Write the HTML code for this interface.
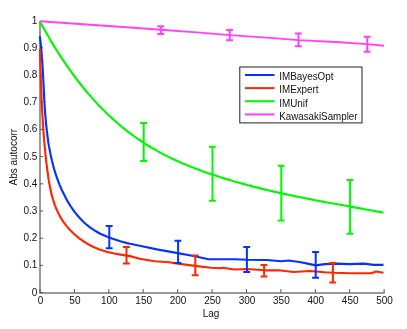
<!DOCTYPE html><html><head><meta charset="utf-8"><style>html,body{margin:0;padding:0;background:#fff}svg{display:block;will-change:transform}text{font-family:"Liberation Sans",sans-serif;font-size:10px;fill:#111}</style></head><body>
<svg width="407" height="329" viewBox="0 0 407 329">
<rect width="407" height="329" fill="#fff"/>
<g stroke="#555" stroke-width="1">
<line x1="40" y1="20.9" x2="40" y2="293.9" stroke="#999" stroke-width="2"/>
<line x1="39" y1="292.9" x2="384.6" y2="292.9" stroke="#999" stroke-width="2"/>
<line x1="40.0" y1="292.9" x2="40.0" y2="289.1"/>
<line x1="40" y1="292.6" x2="43.1" y2="292.6"/>
<line x1="74.4" y1="292.9" x2="74.4" y2="289.1"/>
<line x1="40" y1="265.4" x2="43.1" y2="265.4"/>
<line x1="108.8" y1="292.9" x2="108.8" y2="289.1"/>
<line x1="40" y1="238.2" x2="43.1" y2="238.2"/>
<line x1="143.2" y1="292.9" x2="143.2" y2="289.1"/>
<line x1="40" y1="211.0" x2="43.1" y2="211.0"/>
<line x1="177.6" y1="292.9" x2="177.6" y2="289.1"/>
<line x1="40" y1="183.8" x2="43.1" y2="183.8"/>
<line x1="212.1" y1="292.9" x2="212.1" y2="289.1"/>
<line x1="40" y1="156.6" x2="43.1" y2="156.6"/>
<line x1="246.5" y1="292.9" x2="246.5" y2="289.1"/>
<line x1="40" y1="129.4" x2="43.1" y2="129.4"/>
<line x1="280.9" y1="292.9" x2="280.9" y2="289.1"/>
<line x1="40" y1="102.2" x2="43.1" y2="102.2"/>
<line x1="315.3" y1="292.9" x2="315.3" y2="289.1"/>
<line x1="40" y1="75.0" x2="43.1" y2="75.0"/>
<line x1="349.7" y1="292.9" x2="349.7" y2="289.1"/>
<line x1="40" y1="47.8" x2="43.1" y2="47.8"/>
<line x1="384.1" y1="292.9" x2="384.1" y2="289.1"/>
</g>
<text x="40.5" y="303.6" text-anchor="middle">0</text>
<text x="37.3" y="295.6" text-anchor="end">0</text>
<text x="74.9" y="303.6" text-anchor="middle">50</text>
<text x="37.3" y="268.4" text-anchor="end">0.1</text>
<text x="109.3" y="303.6" text-anchor="middle">100</text>
<text x="37.3" y="241.2" text-anchor="end">0.2</text>
<text x="143.7" y="303.6" text-anchor="middle">150</text>
<text x="37.3" y="214.0" text-anchor="end">0.3</text>
<text x="178.1" y="303.6" text-anchor="middle">200</text>
<text x="37.3" y="186.8" text-anchor="end">0.4</text>
<text x="212.6" y="303.6" text-anchor="middle">250</text>
<text x="37.3" y="159.6" text-anchor="end">0.5</text>
<text x="247.0" y="303.6" text-anchor="middle">300</text>
<text x="37.3" y="132.4" text-anchor="end">0.6</text>
<text x="281.4" y="303.6" text-anchor="middle">350</text>
<text x="37.3" y="105.2" text-anchor="end">0.7</text>
<text x="315.8" y="303.6" text-anchor="middle">400</text>
<text x="37.3" y="78.0" text-anchor="end">0.8</text>
<text x="350.2" y="303.6" text-anchor="middle">450</text>
<text x="37.3" y="50.8" text-anchor="end">0.9</text>
<text x="384.6" y="303.6" text-anchor="middle">500</text>
<text x="37.3" y="23.6" text-anchor="end">1</text>
<text x="211.0" y="316.9" text-anchor="middle">Lag</text>
<text transform="translate(17,157.2) rotate(-90)" text-anchor="middle">Abs autocorr</text>
<polyline fill="none" stroke="#0433ff" stroke-width="2.15" stroke-linejoin="round" points="39.8,36.1 40.2,39.1 40.5,42.1 40.9,45.1 41.2,48.2 41.4,51.3 41.7,54.3 41.9,57.4 42.2,60.5 42.4,63.6 42.6,66.8 42.8,69.9 42.9,73.0 43.1,76.2 43.3,79.3 43.4,82.5 43.6,85.6 43.7,88.8 43.9,91.9 44.1,95.1 44.2,98.3 44.4,101.4 44.6,104.6 44.8,107.8 45.0,110.9 45.2,114.1 45.5,117.2 45.8,120.4 46.0,123.5 46.4,126.7 46.7,129.8 47.1,132.9 47.5,136.1 47.9,139.2 48.3,142.3 48.8,145.4 49.4,148.4 50.0,151.5 50.6,154.6 51.2,157.6 51.9,160.6 52.7,163.7 53.5,166.7 54.3,169.6 55.2,172.6 56.2,175.6 57.2,178.5 58.3,181.4 59.4,184.3 60.6,187.2 61.8,190.0 63.2,192.8 64.6,195.6 66.0,198.4 67.6,201.2 69.2,203.9 70.8,206.5 72.6,209.1 74.4,211.6 76.4,214.1 78.4,216.5 80.5,218.8 82.6,221.0 84.9,223.2 87.2,225.2 89.7,227.1 92.2,228.9 94.8,230.6 97.6,232.2 100.3,233.7 103.2,235.0 106.1,236.3 109.1,237.5 112.0,238.6 115.0,239.6 118.1,240.6 121.1,241.5 124.1,242.3 127.1,243.1 130.0,243.8 139.7,245.7 156.9,249.4 177.7,253.1 193.7,256.0 208.5,259.2 220.0,259.2 234.6,259.2 246.9,259.7 266.5,260.0 281.3,261.2 288.6,260.5 300.9,262.2 309.8,264.1 316.0,265.4 324.6,264.1 336.9,263.6 349.1,264.1 363.9,263.6 373.7,264.9 383.5,264.9"/>
<polyline fill="none" stroke="#ff2600" stroke-width="2.15" stroke-linejoin="round" points="40.0,48.9 40.1,52.2 40.1,55.4 40.2,58.7 40.3,61.9 40.4,65.2 40.5,68.4 40.6,71.7 40.7,74.9 40.8,78.1 40.9,81.3 41.0,84.5 41.1,87.7 41.3,90.9 41.4,94.1 41.5,97.3 41.7,100.5 41.8,103.7 42.0,106.9 42.1,110.0 42.3,113.2 42.5,116.4 42.7,119.6 42.9,122.8 43.1,125.9 43.3,129.1 43.5,132.3 43.8,135.5 44.0,138.7 44.3,141.9 44.6,145.1 44.9,148.2 45.2,151.4 45.5,154.7 45.9,157.9 46.2,161.1 46.6,164.3 47.0,167.5 47.4,170.8 47.9,174.0 48.3,177.3 48.8,180.5 49.4,183.7 50.0,186.9 50.6,190.1 51.3,193.3 52.1,196.4 53.0,199.5 54.0,202.6 55.0,205.6 56.2,208.5 57.5,211.4 58.9,214.3 60.4,217.1 62.0,219.8 63.8,222.4 65.7,224.9 67.7,227.4 69.8,229.8 72.1,232.0 74.4,234.2 76.8,236.3 79.3,238.3 81.9,240.2 84.5,242.0 87.3,243.7 90.1,245.2 92.9,246.7 95.9,248.0 98.8,249.2 101.9,250.3 104.9,251.2 108.0,252.1 111.2,252.8 114.3,253.5 117.5,254.1 120.6,254.6 123.8,255.1 126.9,255.6 130.0,256.1 139.7,258.7 154.4,261.2 169.1,262.2 177.7,263.6 194.9,265.9 210.9,267.8 220.0,268.3 222.3,267.8 234.6,269.5 246.9,269.0 264.0,270.3 278.8,270.3 293.5,272.0 310.0,271.0 316.0,271.5 324.6,272.2 333.2,272.7 349.1,273.2 371.3,273.2 376.2,271.5 383.5,272.7"/>
<polyline fill="none" stroke="#00f900" stroke-width="2.15" stroke-linejoin="round" points="40.0,21.6 42.9,26.9 45.8,32.0 48.7,37.0 51.5,41.9 54.4,46.6 57.3,51.3 60.2,55.8 63.1,60.1 66.0,64.4 68.9,68.6 71.8,72.6 74.6,76.5 77.5,80.3 80.4,84.0 83.3,87.7 86.2,91.2 89.1,94.6 92.0,97.9 94.9,101.1 97.7,104.2 100.6,107.2 103.5,110.1 106.4,113.0 109.3,115.7 112.2,118.4 115.1,121.0 118.0,123.5 120.8,126.0 123.7,128.3 126.6,130.6 129.5,132.8 132.4,135.0 135.3,137.1 138.2,139.1 141.1,141.0 143.9,142.9 146.8,144.8 149.7,146.5 152.6,148.3 155.5,149.9 158.4,151.6 161.3,153.1 164.2,154.7 167.0,156.1 169.9,157.6 172.8,159.0 175.7,160.3 178.6,161.6 181.5,162.9 184.4,164.1 187.3,165.3 190.1,166.5 193.0,167.6 195.9,168.7 198.8,169.8 201.7,170.9 204.6,171.9 207.5,172.9 210.4,173.9 213.2,174.9 216.1,175.8 219.0,176.8 221.9,177.7 224.8,178.6 227.7,179.4 230.6,180.3 233.5,181.2 236.3,182.0 239.2,182.8 242.1,183.6 245.0,184.4 247.9,185.2 250.8,185.9 253.7,186.7 256.6,187.4 259.4,188.1 262.3,188.9 265.2,189.6 268.1,190.2 271.0,190.9 273.9,191.6 276.8,192.2 279.7,192.9 282.5,193.5 285.4,194.1 288.3,194.8 291.2,195.4 294.1,196.0 297.0,196.6 299.9,197.1 302.8,197.7 305.6,198.3 308.5,198.9 311.4,199.4 314.3,200.0 317.2,200.5 320.1,201.1 323.0,201.6 325.9,202.2 328.7,202.7 331.6,203.2 334.5,203.7 337.4,204.3 340.3,204.8 343.2,205.3 346.1,205.8 349.0,206.4 351.8,206.9 354.7,207.4 357.6,207.9 360.5,208.4 363.4,209.0 366.3,209.5 369.2,210.0 372.1,210.5 374.9,211.1 377.8,211.6 380.7,212.1 383.6,212.7"/>
<polyline fill="none" stroke="#ff40ff" stroke-width="1.9" stroke-linejoin="round" points="40.0,21.3 130.0,27.5 161.0,29.8 200.0,32.6 229.6,35.1 270.0,37.9 298.4,40.1 340.0,42.3 367.0,44.1 384.0,45.8"/>
<path fill="none" stroke="#0433ff" stroke-width="2" d="M109.3,226.1V248.2M105.7,226.1h6.9M105.7,248.2h6.9"/>
<path fill="none" stroke="#0433ff" stroke-width="2" d="M178.1,240.8V262.9M174.5,240.8h6.9M174.5,262.9h6.9"/>
<path fill="none" stroke="#0433ff" stroke-width="2" d="M246.9,246.9V272.0M243.3,246.9h6.9M243.3,272.0h6.9"/>
<path fill="none" stroke="#0433ff" stroke-width="2" d="M315.7,251.9V277.7M312.1,251.9h6.9M312.1,277.7h6.9"/>
<path fill="none" stroke="#ff2600" stroke-width="2" d="M126.5,246.9V263.4M122.9,246.9h6.9M122.9,263.4h6.9"/>
<path fill="none" stroke="#ff2600" stroke-width="2" d="M195.3,255.5V275.2M191.7,255.5h6.9M191.7,275.2h6.9"/>
<path fill="none" stroke="#ff2600" stroke-width="2" d="M264.1,264.9V276.4M260.5,264.9h6.9M260.5,276.4h6.9"/>
<path fill="none" stroke="#ff2600" stroke-width="2" d="M332.9,262.9V282.6M329.3,262.9h6.9M329.3,282.6h6.9"/>
<path fill="none" stroke="#00f900" stroke-width="2" d="M143.7,122.9V160.9M140.1,122.9h6.9M140.1,160.9h6.9"/>
<path fill="none" stroke="#00f900" stroke-width="2" d="M212.5,146.8V200.7M208.9,146.8h6.9M208.9,200.7h6.9"/>
<path fill="none" stroke="#00f900" stroke-width="2" d="M281.3,165.8V220.4M277.7,165.8h6.9M277.7,220.4h6.9"/>
<path fill="none" stroke="#00f900" stroke-width="2" d="M350.1,180.1V233.8M346.5,180.1h6.9M346.5,233.8h6.9"/>
<path fill="none" stroke="#ff40ff" stroke-width="2" d="M160.9,26.3V34.1M157.3,26.3h6.9M157.3,34.1h6.9"/>
<path fill="none" stroke="#ff40ff" stroke-width="2" d="M229.7,30.1V40.3M226.1,30.1h6.9M226.1,40.3h6.9"/>
<path fill="none" stroke="#ff40ff" stroke-width="2" d="M298.5,33.4V46.3M294.9,33.4h6.9M294.9,46.3h6.9"/>
<path fill="none" stroke="#ff40ff" stroke-width="2" d="M367.3,36.7V51.8M363.7,36.7h6.9M363.7,51.8h6.9"/>
<rect x="239.8" y="67" width="122.2" height="55.9" fill="#fff" stroke="#222" stroke-width="1"/>
<line x1="245" y1="75.0" x2="274.5" y2="75.0" stroke="#0433ff" stroke-width="2"/>
<text x="279.2" y="80.3" textLength="54.3" lengthAdjust="spacingAndGlyphs">IMBayesOpt</text>
<line x1="245" y1="88.1" x2="274.5" y2="88.1" stroke="#ff2600" stroke-width="2"/>
<text x="279.2" y="93.4" textLength="39.4" lengthAdjust="spacingAndGlyphs">IMExpert</text>
<line x1="245" y1="101.2" x2="274.5" y2="101.2" stroke="#00f900" stroke-width="2"/>
<text x="279.2" y="106.5" textLength="28.6" lengthAdjust="spacingAndGlyphs">IMUnif</text>
<line x1="245" y1="114.4" x2="274.5" y2="114.4" stroke="#ff40ff" stroke-width="2"/>
<text x="279.2" y="119.7" textLength="78.4" lengthAdjust="spacingAndGlyphs">KawasakiSampler</text>
</svg></body></html>
